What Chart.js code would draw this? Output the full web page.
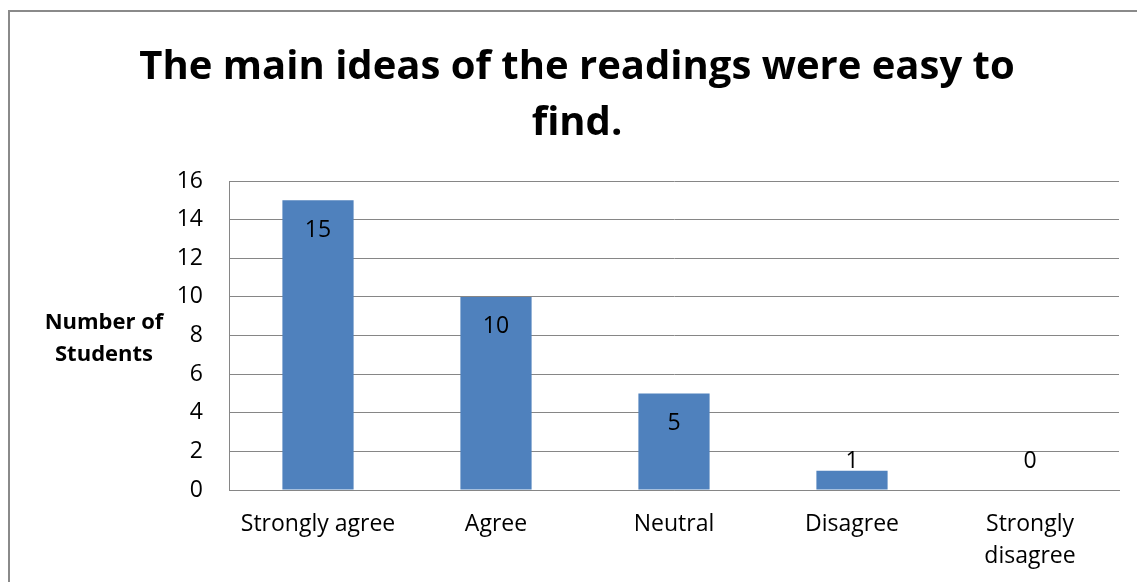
<!DOCTYPE html>
<html>
<head>
<meta charset="utf-8">
<script src="https://cdn.jsdelivr.net/npm/chart.js@4/dist/chart.umd.min.js"></script>
<style>
  html, body { margin: 0; padding: 0; background: #fff; }
  #wrap { width: 1137px; height: 582px; position: relative; }
</style>
</head>
<body>
<div id="wrap"><canvas id="c" width="1137" height="582"></canvas></div>
<script>
const chartTitle = ['The main ideas of the readings were easy to', 'find.'];
const yAxisTitle = ['Number of', 'Students'];
const categories = [['Strongly agree'], ['Agree'], ['Neutral'], ['Disagree'], ['Strongly', 'disagree']];
const students = [15, 10, 5, 1, 0];
const yTicks = [0, 2, 4, 6, 8, 10, 12, 14, 16];

const FONT = '"Open Sans", Lato, "Liberation Sans", sans-serif';
const GRID = '#868686';

// Frame around the whole chart, the horizontal axis caption and the value labels
const decorations = {
  id: 'decorations',
  beforeDraw(chart) {
    const ctx = chart.ctx;
    ctx.save();
    ctx.strokeStyle = '#8a8a8a';
    ctx.lineWidth = 2;
    ctx.beginPath();
    ctx.moveTo(9, 582);
    ctx.lineTo(9, 11);
    ctx.lineTo(1137, 11);
    ctx.stroke();
    ctx.restore();
  },
  afterDatasetsDraw(chart) {
    const ctx = chart.ctx;
    const area = chart.chartArea;
    ctx.save();
    ctx.fillStyle = '#000';
    ctx.font = 'bold 22px ' + FONT;
    ctx.textAlign = 'center';
    ctx.textBaseline = 'middle';
    const midY = (area.top + area.bottom) / 2;
    ctx.fillText(yAxisTitle[0], 104, midY - 13);
    ctx.fillText(yAxisTitle[1], 104, midY + 19);

    ctx.font = '23px ' + FONT;
    const meta = chart.getDatasetMeta(0);
    const base = chart.scales.y.getPixelForValue(0);
    meta.data.forEach((bar, i) => {
      const y = Math.min(bar.y + 30, base - 29);
      ctx.fillText(String(students[i]), bar.x, y);
    });
    ctx.restore();
  }
};

new Chart(document.getElementById('c'), {
  type: 'bar',
  data: {
    labels: categories,
    datasets: [{
      data: students,
      backgroundColor: '#4F81BD',
      borderWidth: 0,
      barPercentage: 0.8,
      categoryPercentage: 0.5
    }]
  },
  options: {
    responsive: false,
    animation: false,
    events: [],
    layout: { padding: { top: 0, left: 35, right: 18, bottom: 0 } },
    plugins: {
      legend: { display: false },
      tooltip: { enabled: false },
      title: {
        display: true,
        text: chartTitle,
        color: '#000',
        font: { family: FONT, size: 40, weight: 'bold', lineHeight: 56 / 40 },
        padding: { top: 40, bottom: 29 }
      }
    },
    scales: {
      x: {
        grid: { display: false, drawTicks: false },
        border: { display: true, color: GRID, width: 1 },
        ticks: {
          color: '#000',
          font: { family: FONT, size: 23, lineHeight: 32 / 23 },
          padding: 18,
          maxRotation: 0,
          autoSkip: false
        },
        afterFit(scale) { scale.height = 92; }
      },
      y: {
        min: 0,
        max: 16,
        afterBuildTicks(scale) { scale.ticks = yTicks.map(v => ({ value: v })); },
        grid: { color: GRID, lineWidth: 1, drawTicks: false },
        border: { display: true, color: GRID, width: 1 },
        ticks: {
          color: '#000',
          font: { family: FONT, size: 23 },
          padding: 26
        },
        afterFit(scale) { scale.width = 194; }
      }
    }
  },
  plugins: [decorations]
});
</script>
</body>
</html>
